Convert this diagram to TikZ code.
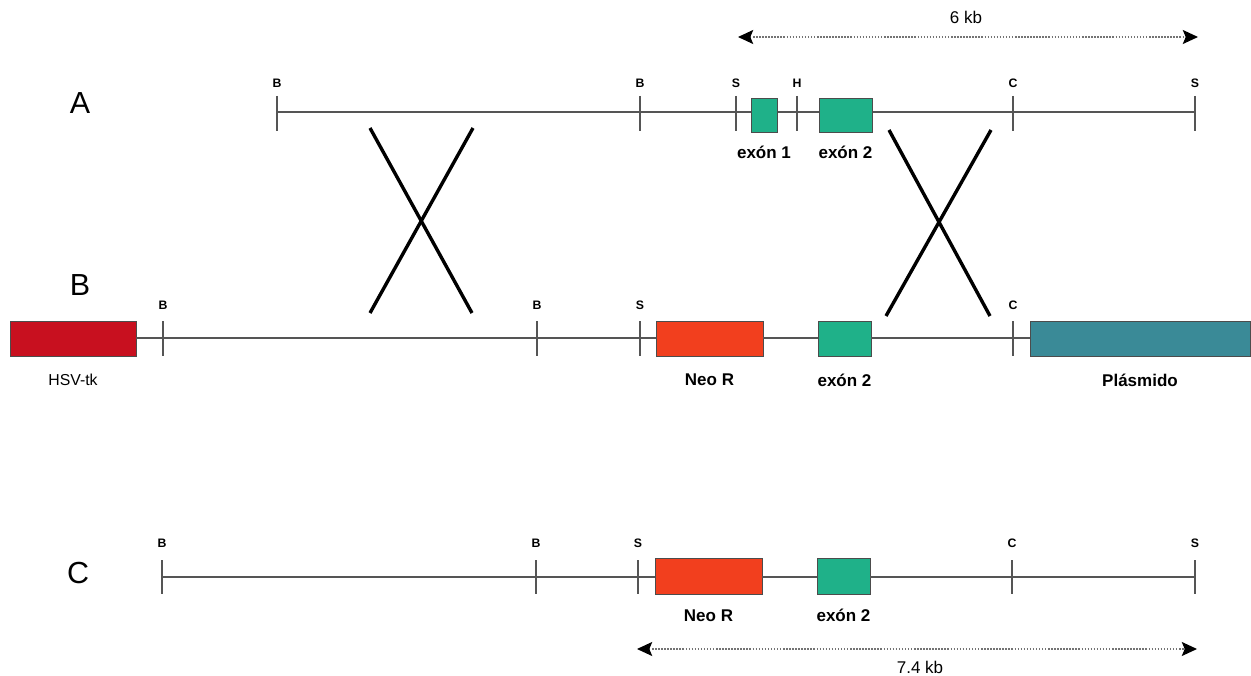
\documentclass[tikz,border=0pt]{standalone}
\usepackage{fontspec}
\setmainfont{Liberation Sans}
\usetikzlibrary{arrows.meta,positioning}
\definecolor{exongreen}{HTML}{1FB189}
\definecolor{neored}{HTML}{F23F1E}
\definecolor{tkred}{HTML}{C8101F}
\definecolor{plasmteal}{HTML}{3A8A97}
\definecolor{dnagray}{HTML}{555555}
\tikzset{
  dna/.style={draw=dnagray, line width=0.9pt},
  site/.style={draw=dnagray, line width=0.9pt},
  sitelabel/.style={font=\bfseries\fontsize{10.5}{12}\selectfont, inner sep=0pt},
  gene/.style={draw=black!70, line width=0.5pt, inner sep=0pt, minimum height=1.05cm},
  genelabel/.style={font=\bfseries\fontsize{14.5}{16}\selectfont, inner sep=0pt},
  rowlabel/.style={font=\fontsize{26}{30}\selectfont, inner sep=0pt},
  cross/.style={line width=2.9pt, black},
  span/.style={draw=black!55, line width=1pt, dash pattern=on 1.3pt off 1.3pt,
    arrows={Stealth[length=13pt,width=12pt,inset=2.5pt,black]-Stealth[length=13pt,width=12pt,inset=2.5pt,black]}},
  spanlabel/.style={font=\fontsize{14.5}{16}\selectfont, inner sep=0pt}
}
\begin{document}
\begin{tikzpicture}[x=0.03cm, y=-0.03cm]
\useasboundingbox (0,0) rectangle (1251,676);

% ---------- A: wild-type locus ----------
\node[rowlabel] (labA) at (80,103) {A};
\foreach \n/\x/\t in {a1/277/B, a2/640/B, a3/736/S, a4/797/H, a5/1013/C, a6/1195/S}{
  \coordinate (\n) at (\x,112);
  \draw[site] (\x,96) -- (\x,131);
  \node[sitelabel] (\n l) at (\x,83) {\t};
}
\draw[dna] (a1) -- (a6);
\node[gene, fill=exongreen, minimum width=0.78cm, minimum height=1.02cm] (exA1) at (764,115) {};
\node[gene, fill=exongreen, minimum width=1.59cm, minimum height=1.02cm] (exA2) at (845.5,115) {};
\node[genelabel, below=0.4cm of exA1] (exA1l) {exón 1};
\node[genelabel, below=0.4cm of exA2] (exA2l) {exón 2};

% 6 kb span
\coordinate (s6a) at (738,37);
\coordinate (s6b) at (1198,37);
\draw[span] (s6a) -- (s6b);
\node[spanlabel] (s6l) at (966,17) {6 kb};

% ---------- crossovers ----------
\coordinate (xl1) at (370,128); \coordinate (xl2) at (473,128);
\coordinate (xl3) at (370,313); \coordinate (xl4) at (472,313);
\draw[cross] (xl1) -- (xl4);
\draw[cross] (xl2) -- (xl3);
\coordinate (xr1) at (889,130); \coordinate (xr2) at (991,130);
\coordinate (xr3) at (886,316); \coordinate (xr4) at (990,316);
\draw[cross] (xr1) -- (xr4);
\draw[cross] (xr2) -- (xr3);

% ---------- B: targeting vector ----------
\node[rowlabel] (labB) at (80,285) {B};
\coordinate (bline) at (0,338);
\node[gene, fill=tkred, minimum width=3.78cm] (tk) at (73,338.5) {};
\node[gene, fill=neored, minimum width=3.21cm] (neoB) at (709.5,338.5) {};
\node[gene, fill=exongreen, minimum width=1.59cm] (exB2) at (844.5,338.5) {};
\node[gene, fill=plasmteal, minimum width=6.6cm] (plas) at (1140,338.5) {};
\draw[dna] (tk.east |- bline) -- (neoB.west |- bline);
\draw[dna] (neoB.east |- bline) -- (exB2.west |- bline);
\draw[dna] (exB2.east |- bline) -- (plas.west |- bline);
\foreach \n/\x/\t in {b1/163/B, b2/537/B, b3/640/S, b4/1013/C}{
  \coordinate (\n) at (\x,338);
  \draw[site] (\x,321) -- (\x,356);
  \node[sitelabel] (\n l) at (\x,305) {\t};
}
\node[font=\fontsize{13.5}{16}\selectfont, inner sep=0pt, below=0.52cm of tk] (tkl) {HSV-tk};
\node[genelabel, below=0.52cm of neoB] (neoBl) {Neo R};
\node[genelabel, below=0.52cm of exB2] (exB2l) {exón 2};
\node[genelabel, below=0.52cm of plas] (plasl) {Plásmido};

% ---------- C: recombined locus ----------
\node[rowlabel] (labC) at (78,573) {C};
\node[gene, fill=neored, minimum width=3.21cm, minimum height=1.08cm] (neoC) at (708.5,576) {};
\node[gene, fill=exongreen, minimum width=1.59cm, minimum height=1.08cm] (exC2) at (843.5,576) {};
\foreach \n/\x/\t in {c1/162/B, c2/536/B, c3/638/S, c4/1012/C, c5/1195/S}{
  \coordinate (\n) at (\x,577);
  \draw[site] (\x,560) -- (\x,594);
  \node[sitelabel] (\n l) at (\x,543) {\t};
}
\draw[dna] (c1) -- (neoC.west |- c1);
\draw[dna] (neoC.east |- c1) -- (exC2.west |- c1);
\draw[dna] (exC2.east |- c1) -- (c5);
\node[genelabel, below=0.45cm of neoC] (neoCl) {Neo R};
\node[genelabel, below=0.45cm of exC2] (exC2l) {exón 2};

% 7.4 kb span
\coordinate (s7a) at (637,649);
\coordinate (s7b) at (1197,649);
\draw[span] (s7a) -- (s7b);
\node[spanlabel] (s7l) at (920,667) {7.4 kb};
\end{tikzpicture}
\end{document}
